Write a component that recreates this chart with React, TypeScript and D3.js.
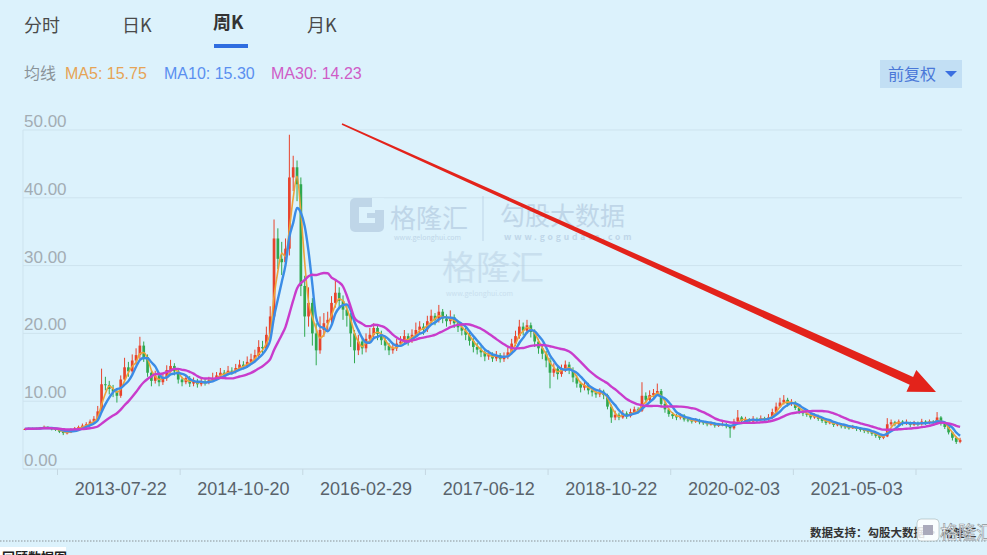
import React from 'react';
import * as d3 from 'd3';

const W = 987;
const H = 555;

// biweekly candles (close / high / low); open = previous close
const firstOpen = 5.85;
const closes = [
  5.9, 6.0, 5.9, 6.0, 6.1, 6.2, 6.0, 5.9, 5.8, 5.5, 5.3, 5.4, 5.8, 6.0, 6.2, 6.4, 6.6, 7.0, 7.4, 8.5,
  12.5, 12.4, 11.8, 11.4, 10.8, 13.2, 15.0, 14.4, 16.0, 16.8, 18.2, 16.5, 14.2, 13.0, 13.8, 12.8, 13.4, 14.6, 15.2, 14.4,
  13.2, 12.8, 13.4, 12.6, 13.0, 12.5, 12.9, 12.7, 13.1, 13.4, 13.8, 14.2, 14.0, 14.5, 14.3, 14.9, 15.4, 15.1, 15.8, 16.2,
  16.8, 18.0, 17.8, 19.8, 22.5, 34.0, 31.0, 30.5, 32.5, 43.0, 44.5, 42.0, 27.0, 22.5, 24.5, 20.0, 17.5, 20.5, 21.5, 22.0,
  24.5, 26.0, 24.8, 23.5, 22.6, 20.0, 17.5, 18.8, 17.8, 19.2, 19.8, 20.8, 19.9, 19.0, 18.2, 17.5, 17.8, 18.5, 18.8, 19.6,
  18.9, 19.8, 20.5, 21.0, 20.6, 21.8, 22.6, 22.0, 23.2, 22.2, 21.8, 22.4, 21.5, 20.9, 20.4, 19.8, 18.9, 18.0, 17.6, 17.2,
  16.6, 16.9, 16.3, 16.8, 16.2, 16.6, 17.2, 18.5, 19.6, 21.0, 20.4, 21.2, 20.2, 18.8, 17.8, 17.0, 16.0, 14.2, 14.8, 14.0,
  14.8, 15.4, 14.6, 13.5, 12.6, 12.0, 12.4, 11.6, 11.3, 11.0, 11.4, 10.9, 9.2, 7.6, 8.0, 7.6, 8.2, 7.8, 8.4, 8.8,
  8.6, 10.8, 10.2, 10.9, 11.2, 11.5, 9.6, 8.8, 8.1, 7.8, 7.6, 7.9, 7.3, 7.2, 7.0, 7.2, 6.9, 6.8, 6.6, 6.7,
  6.4, 6.5, 6.6, 6.3, 6.0, 7.0, 7.6, 7.1, 7.3, 7.0, 7.4, 7.2, 7.5, 7.3, 7.6, 8.4, 9.2, 9.8, 10.2, 9.6,
  9.8, 9.0, 8.5, 8.2, 8.0, 7.6, 7.8, 7.4, 7.1, 6.8, 6.9, 6.5, 6.6, 6.3, 6.2, 6.0, 6.2, 5.9, 5.8, 5.6,
  5.5, 5.2, 4.9, 4.6, 4.8, 6.6, 6.9, 6.6, 7.0, 6.7, 6.9, 6.5, 6.8, 6.6, 7.0, 6.8, 7.0, 6.8, 7.6, 6.7,
  6.2, 5.4, 4.6, 4.0, 4.3,
];
const highs = [
  6.0, 6.1, 6.1, 6.1, 6.2, 6.4, 6.3, 6.1, 6.0, 5.9, 5.6, 5.6, 6.0, 6.2, 6.4, 6.7, 6.9, 7.3, 7.8, 9.3,
  14.8, 13.6, 13.0, 12.4, 11.8, 13.8, 16.4, 15.8, 16.9, 17.8, 19.5, 18.8, 16.9, 14.6, 14.5, 14.2, 14.0, 15.3, 16.1, 15.6,
  14.7, 13.6, 13.9, 13.7, 13.5, 13.3, 13.4, 13.3, 13.6, 14.2, 14.3, 14.9, 14.6, 15.2, 15.0, 15.5, 16.1, 15.9, 16.6, 17.0,
  17.6, 19.0, 18.9, 21.0, 24.0, 36.8, 35.5, 33.5, 34.0, 49.3, 46.2, 45.5, 43.0, 28.5, 26.8, 25.2, 21.5, 22.5, 23.0, 23.2,
  25.5, 28.0, 26.8, 25.6, 24.2, 23.0, 20.5, 19.8, 19.5, 20.0, 20.8, 21.5, 21.2, 20.4, 19.4, 18.6, 18.5, 19.2, 19.6, 20.5,
  20.0, 20.6, 21.6, 21.8, 21.5, 22.6, 23.5, 23.0, 24.2, 23.6, 22.8, 23.4, 22.8, 21.9, 21.4, 20.8, 20.2, 19.3, 18.6, 18.1,
  17.6, 17.5, 17.2, 17.4, 17.1, 17.2, 17.9, 19.2, 20.4, 22.0, 21.6, 22.0, 21.6, 20.6, 19.2, 18.3, 17.4, 16.4, 15.6, 15.2,
  15.4, 16.0, 15.8, 15.0, 13.9, 12.9, 12.9, 12.7, 11.9, 11.6, 11.9, 11.7, 11.1, 9.5, 8.6, 8.3, 8.7, 8.5, 8.9, 9.2,
  9.1, 12.8, 11.3, 11.6, 11.8, 12.6, 11.8, 9.9, 9.0, 8.4, 8.1, 8.2, 8.1, 7.6, 7.5, 7.5, 7.4, 7.1, 7.0, 7.0,
  6.9, 6.8, 6.9, 6.8, 6.5, 7.4, 8.7, 7.8, 7.7, 7.5, 7.8, 7.6, 7.9, 7.7, 8.1, 8.9, 9.8, 10.5, 10.9, 10.5,
  10.3, 10.0, 9.2, 8.8, 8.5, 8.2, 8.2, 8.0, 7.6, 7.3, 7.2, 7.0, 6.9, 6.7, 6.5, 6.4, 6.5, 6.3, 6.1, 5.9,
  5.8, 5.6, 5.3, 5.0, 5.1, 7.5, 7.3, 7.1, 7.3, 7.2, 7.3, 7.0, 7.1, 7.0, 7.4, 7.2, 7.3, 7.2, 8.4, 7.8,
  6.9, 6.3, 5.5, 4.8, 4.6,
];
const lows = [
  5.8, 5.8, 5.8, 5.8, 5.9, 6.0, 5.9, 5.7, 5.6, 5.3, 5.0, 5.1, 5.3, 5.7, 5.9, 6.1, 6.2, 6.5, 6.9, 7.2,
  8.3, 11.6, 11.0, 10.6, 9.8, 10.5, 12.8, 13.6, 14.0, 15.4, 16.2, 15.8, 13.6, 12.2, 12.6, 12.2, 12.4, 13.0, 14.2, 13.8,
  12.6, 12.2, 12.5, 12.1, 12.2, 12.0, 12.2, 12.3, 12.5, 12.9, 13.1, 13.5, 13.6, 13.8, 13.9, 14.1, 14.6, 14.7, 14.9, 15.4,
  15.9, 16.5, 17.0, 17.5, 19.5, 22.0, 29.5, 28.6, 29.8, 31.5, 41.0, 39.5, 25.5, 19.5, 21.0, 18.2, 15.3, 17.0, 19.5, 20.4,
  21.4, 23.8, 23.6, 22.0, 21.0, 18.0, 15.6, 16.8, 16.9, 17.2, 18.6, 19.2, 19.0, 18.3, 17.5, 16.8, 17.0, 17.4, 18.0, 18.4,
  18.2, 18.6, 19.4, 20.0, 19.8, 20.2, 21.3, 21.2, 21.6, 21.5, 21.0, 21.3, 20.8, 20.2, 19.7, 19.0, 18.2, 17.2, 16.9, 16.5,
  15.9, 16.1, 15.8, 15.9, 15.7, 15.8, 16.2, 16.9, 18.1, 19.2, 19.7, 19.9, 19.4, 18.0, 17.0, 16.2, 15.0, 11.9, 13.6, 13.2,
  13.6, 14.3, 14.0, 12.8, 12.0, 11.3, 11.6, 11.0, 10.7, 10.5, 10.6, 10.3, 8.8, 6.8, 7.2, 7.2, 7.4, 7.4, 7.6, 8.1,
  8.2, 8.4, 9.7, 9.9, 10.5, 10.8, 9.2, 8.3, 7.7, 7.4, 7.2, 7.3, 7.0, 6.9, 6.7, 6.8, 6.6, 6.5, 6.3, 6.4,
  6.1, 6.2, 6.3, 6.0, 4.6, 5.8, 6.8, 6.8, 6.9, 6.7, 6.8, 6.9, 7.0, 7.0, 7.1, 7.4, 8.2, 9.0, 9.5, 9.2,
  9.3, 8.7, 8.1, 7.8, 7.7, 7.3, 7.4, 7.1, 6.8, 6.5, 6.6, 6.2, 6.3, 6.0, 5.9, 5.8, 5.9, 5.6, 5.5, 5.3,
  5.2, 4.9, 4.6, 4.3, 4.4, 4.7, 6.3, 6.3, 6.4, 6.4, 6.5, 6.2, 6.3, 6.3, 6.4, 6.5, 6.6, 6.5, 6.7, 6.4,
  5.9, 5.1, 4.2, 3.7, 3.8,
];

const yTicks = [0, 10, 20, 30, 40, 50];
const dateLabels = ['2013-07-22', '2014-10-20', '2016-02-29', '2017-06-12', '2018-10-22', '2020-02-03', '2021-05-03'];
const labelIndex = [25, 57, 89, 121, 153, 185, 217];
const tickIndex = [9, 41, 73, 105, 137, 169, 201, 233];
const tabs = ['分时', '日K', '周K', '月K'];
const activeTab = '周K';
const maNames = ['MA5', 'MA10', 'MA30'];
const maValues = ['15.75', '15.30', '14.23'];
const maWindows = [3, 5, 15]; // biweekly windows ≈ 5 / 10 / 30 weeks

const BG = '#dcf2fc';
const RED = '#e8432c';
const GREEN = '#2fa84f';
const MA_COLORS = ['#eea23a', '#3b8ce6', '#c93ccc'];
const MA_TEXT = ['#e6a456', '#5a8ff0', '#cf5cc7'];

function movingAvg(vals: number[], n: number) {
  return vals.map((_, i) => {
    const s = vals.slice(Math.max(0, i - n + 1), i + 1);
    return d3.mean(s) as number;
  });
}

export default function App() {
  const N = closes.length;
  const left = 23;
  const right = 962;
  const x = d3
    .scaleBand<number>()
    .domain(d3.range(N))
    .range([left, right])
    .paddingInner(0.3)
    .paddingOuter(0.15);
  const step = x.step();
  const bw = x.bandwidth();
  const cx = (i: number) => (x(i) as number) + bw / 2;
  const y = d3.scaleLinear().domain([0, 50]).range([469, 130]);

  const opens = closes.map((c, i) => (i === 0 ? firstOpen : closes[i - 1]));

  const maSeries = maWindows.map((n) => movingAvg(closes, n));
  const line = d3
    .line<number>()
    .x((_, i) => cx(i))
    .y((d) => y(d))
    .curve(d3.curveMonotoneX);

  // arrow geometry
  const ax0 = 342, ay0 = 124, ax1 = 936, ay1 = 392;
  const dx = ax1 - ax0, dy = ay1 - ay0;
  const len = Math.hypot(dx, dy);
  const ux = dx / len, uy = dy / len;
  const nx = -uy, ny = ux;
  const headLen = 27, headW = 12, w0 = 0.8, w1 = 4.2;
  const bx = ax1 - ux * headLen, by = ay1 - uy * headLen;
  const arrowPts = [
    [ax0 + nx * w0, ay0 + ny * w0],
    [bx + nx * w1, by + ny * w1],
    [bx + nx * headW, by + ny * headW],
    [ax1, ay1],
    [bx - nx * headW, by - ny * headW],
    [bx - nx * w1, by - ny * w1],
    [ax0 - nx * w0, ay0 - ny * w0],
  ];

  const tabX = [24, 122, 213, 307];
  const wm = '#b6cde2';

  return (
    <div style={{ position: 'absolute', left: 0, top: 0, width: W, height: H }}>
      <svg width={W} height={H} style={{ display: 'block', fontFamily: '"Noto Sans CJK SC", "Liberation Sans", sans-serif' }}>
        <rect x={0} y={0} width={W} height={H} fill={BG} />

        {/* tabs */}
        {tabs.map((t, i) => (
          <text
            key={t}
            x={tabX[i]}
            y={i === 2 ? 29 : 32}
            fontSize={18}
            fontWeight={t === activeTab ? 700 : 400}
            fill={t === activeTab ? '#333' : '#4a4a4a'}
          >
            {t}
          </text>
        ))}
        <rect x={214} y={44} width={34} height={4} fill="#2f6de0" />

        {/* MA legend */}
        <text x={24} y={79} fontSize={16} fill="#8a9399">均线</text>
        {maNames.map((n, i) => (
          <text
            key={n}
            x={[65, 164, 271][i]}
            y={79}
            fontSize={16}
            fill={MA_TEXT[i]}
            fontFamily='"Liberation Sans", Arial, sans-serif'
          >
            {`${n}: ${maValues[i]}`}
          </text>
        ))}

        {/* button */}
        <rect x={880} y={60} width={82} height={28} fill="#c2dff4" />
        <text x={888} y={80} fontSize={16} fill="#4a78d8">前复权</text>
        <path d="M 945 71 L 957 71 L 951 77 Z" fill="#3a6fe0" />

        {/* grid */}
        {yTicks.map((t) => (
          <g key={t}>
            {t > 0 && <line x1={left} x2={right} y1={y(t)} y2={y(t)} stroke="#cde3ee" strokeWidth={1} />}
            <text
              x={24}
              y={y(t) - 3}
              fontSize={17}
              fill="#a3adb4"
              fontFamily='"Liberation Sans", Arial, sans-serif'
            >
              {t.toFixed(2)}
            </text>
          </g>
        ))}
        <line x1={left} x2={left} y1={y(50)} y2={y(0)} stroke="#cde3ee" />
        <line x1={left} x2={right} y1={y(0)} y2={y(0)} stroke="#c5d8e2" strokeWidth={1.2} />
        {tickIndex.map((ti) => {
          const tx = (x(ti) as number) - (step * 0.3) / 2;
          return <line key={ti} x1={tx} x2={tx} y1={y(0)} y2={y(0) + 6} stroke="#c5d8e2" />;
        })}
        {dateLabels.map((d, i) => (
          <text
            key={d}
            x={cx(labelIndex[i])}
            y={495}
            textAnchor="middle"
            fontSize={18}
            fill="#59636b"
            fontFamily='"Liberation Sans", Arial, sans-serif'
          >
            {d}
          </text>
        ))}

        {/* watermarks */}
        <g opacity={0.75}>
          <rect x={350} y={198} width={34} height={34} rx={5} fill={wm} />
          <rect x={359} y={207} width={16} height={16} fill={BG} />
          <rect x={372} y={198} width={12} height={12} fill={BG} />
          <rect x={367} y={213} width={10} height={5} fill={wm} />
          <text x={390} y={228} fontSize={26} fill={wm}>格隆汇</text>
          <text x={394} y={240} fontSize={7} fill={wm}>www.gelonghui.com</text>
          <line x1={483} x2={483} y1={196} y2={241} stroke={wm} />
          <text x={500} y={225} fontSize={25} fill={wm}>勾股大数据</text>
          <text x={504} y={240} fontSize={8.5} letterSpacing={2.9} fill={wm} fontWeight={700}>www.gogudata.com</text>
        </g>
        <g opacity={0.5}>
          <text x={442} y={280} fontSize={34} fill={wm}>格隆汇</text>
          <text x={446} y={296} fontSize={7} fill={wm}>www.gelonghui.com</text>
        </g>

        {/* candles */}
        {closes.map((c, i) => {
          const o = opens[i];
          const up = c >= o;
          const col = up ? RED : GREEN;
          const top = y(Math.max(o, c));
          const bot = y(Math.min(o, c));
          return (
            <g key={i}>
              <line x1={cx(i)} x2={cx(i)} y1={y(highs[i])} y2={y(lows[i])} stroke={col} strokeWidth={1} />
              <rect x={x(i)} y={top} width={bw} height={Math.max(1, bot - top)} fill={col} />
            </g>
          );
        })}

        {/* MA lines */}
        {maSeries.map((s, k) => (
          <path
            key={k}
            d={line(s) || ''}
            fill="none"
            stroke={MA_COLORS[k]}
            strokeWidth={k === 0 ? 1.6 : 2.4}
            strokeLinejoin="round"
          />
        ))}

        {/* arrow */}
        <polygon points={arrowPts.map((p) => p.join(',')).join(' ')} fill="#e3231b" />

        {/* footer */}
        <text x={810} y={537} fontSize={11.5} fontWeight={700} fill="#333">数据支持：勾股大数据 · 格隆汇</text>
        <line x1={0} x2={W} y1={541} y2={541} stroke="#8a9296" strokeDasharray="1.5 1.5" />
        <rect x={0} y={547} width={66} height={10} fill="#ffffff" />
        <text x={2} y={562} fontSize={13} fontWeight={700} fill="#222">回顾数据图</text>
        <g>
          <rect x={917} y={519} width={22} height={22} rx={4} fill="#ffffff" opacity={0.85} stroke="#9aa" strokeWidth={0.6} />
          <rect x={923} y={525} width={10} height={10} fill="#aab" />
          <text x={940} y={539} fontSize={18} fill="#ffffff" stroke="#8c9499" strokeWidth={0.6}>格隆汇</text>
        </g>
      </svg>
    </div>
  );
}
